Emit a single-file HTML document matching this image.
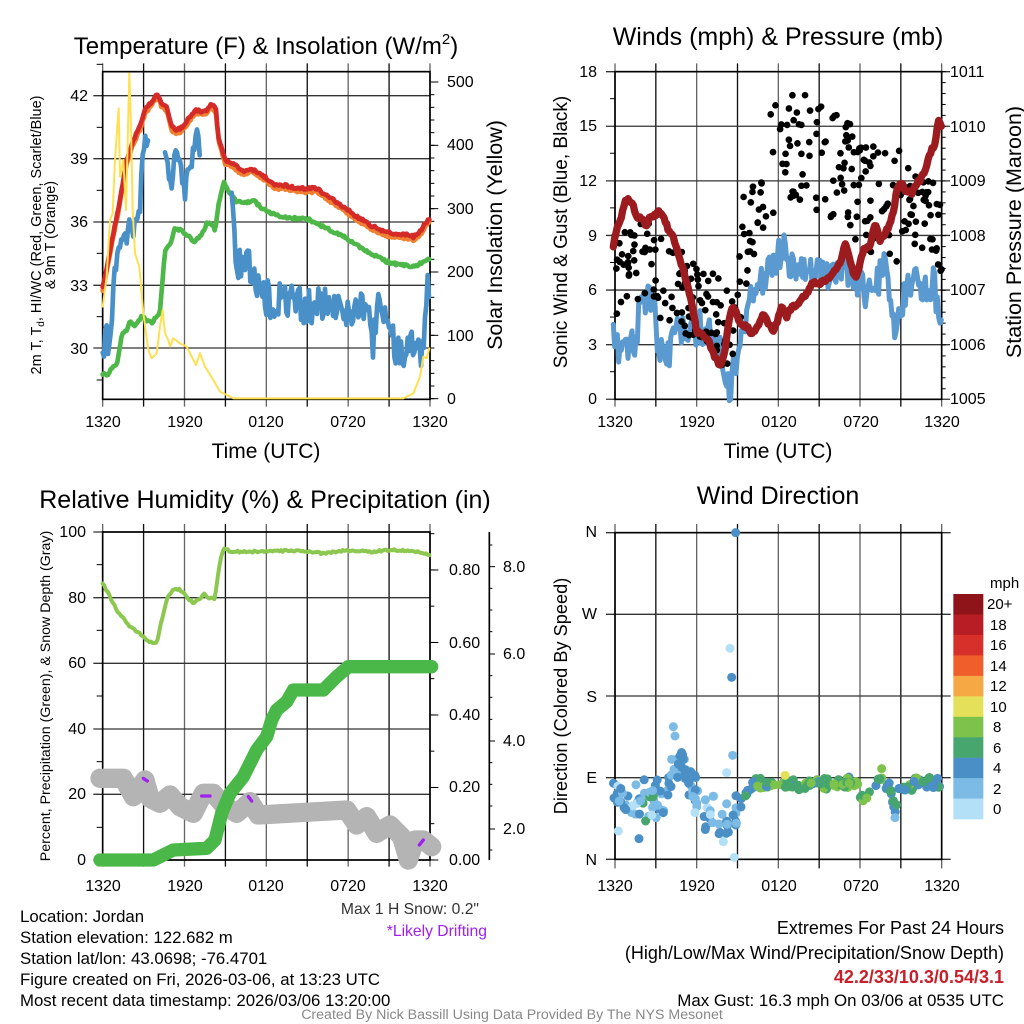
<!DOCTYPE html>
<html><head><meta charset="utf-8">
<style>
html,body{margin:0;padding:0;background:#fff;}
svg{display:block;font-family:"Liberation Sans",sans-serif;}
</style></head>
<body>
<svg id="s" width="1024" height="1024" viewBox="0 0 1024 1024" xmlns="http://www.w3.org/2000/svg">
<rect width="1024" height="1024" fill="#fff"/>
<g id="g1" transform="translate(90,60) scale(0.3333333)"></g>
<g id="g2" transform="translate(600,60) scale(0.3333333)"></g>
<g id="g3" transform="translate(90,520) scale(0.3333333)"></g>
<g id="g4" transform="translate(600,520) scale(0.3333333)"></g>
<g id="txt" font-size="16" fill="#000">
<!-- Panel 1 -->
<text x="266" y="54" font-size="24" text-anchor="middle">Temperature (F) &amp; Insolation (W/m<tspan font-size="15" dy="-10">2</tspan><tspan dy="10">)</tspan></text>
<g text-anchor="end"><text x="88" y="101">42</text><text x="88" y="164">39</text><text x="88" y="227">36</text><text x="88" y="291">33</text><text x="88" y="354">30</text></g>
<g text-anchor="start"><text x="447" y="87">500</text><text x="447" y="150">400</text><text x="447" y="214">300</text><text x="447" y="277">200</text><text x="447" y="341">100</text><text x="447" y="404">0</text></g>
<g text-anchor="middle"><text x="103" y="427">1320</text><text x="185" y="427">1920</text><text x="266" y="427">0120</text><text x="348" y="427">0720</text><text x="430" y="427">1320</text></g>
<text x="266" y="458" font-size="21" text-anchor="middle">Time (UTC)</text>
<text transform="translate(41,235) rotate(-90)" font-size="14.5" text-anchor="middle">2m T, T<tspan font-size="10" dy="3">d</tspan><tspan dy="-3">, HI/WC (Red, Green, Scarlet/Blue)</tspan></text>
<text transform="translate(55,235) rotate(-90)" font-size="14.5" text-anchor="middle">&amp; 9m T (Orange)</text>
<text transform="translate(502,235) rotate(-90)" font-size="21.5" text-anchor="middle">Solar Insolation (Yellow)</text>
<!-- Panel 2 -->
<text x="778" y="45" font-size="25" text-anchor="middle">Winds (mph) &amp; Pressure (mb)</text>
<g text-anchor="end"><text x="597" y="77">18</text><text x="597" y="131">15</text><text x="597" y="186">12</text><text x="597" y="241">9</text><text x="597" y="295">6</text><text x="597" y="350">3</text><text x="597" y="404">0</text></g>
<g text-anchor="start"><text x="950" y="77">1011</text><text x="950" y="132">1010</text><text x="950" y="186">1009</text><text x="950" y="241">1008</text><text x="950" y="295">1007</text><text x="950" y="350">1006</text><text x="950" y="404">1005</text></g>
<g text-anchor="middle"><text x="615" y="427">1320</text><text x="697" y="427">1920</text><text x="779" y="427">0120</text><text x="861" y="427">0720</text><text x="942" y="427">1320</text></g>
<text x="778" y="458" font-size="21" text-anchor="middle">Time (UTC)</text>
<text transform="translate(567,232) rotate(-90)" font-size="19" text-anchor="middle">Sonic Wind &amp; Gust (Blue, Black)</text>
<text transform="translate(1021,232) rotate(-90)" font-size="21.5" text-anchor="middle">Station Pressure (Maroon)</text>
<!-- Panel 3 -->
<text x="265" y="508" font-size="25" text-anchor="middle">Relative Humidity (%) &amp; Precipitation (in)</text>
<g text-anchor="end"><text x="86" y="537">100</text><text x="86" y="603">80</text><text x="86" y="668">60</text><text x="86" y="734">40</text><text x="86" y="799">20</text><text x="86" y="865">0</text></g>
<g text-anchor="start"><text x="449" y="575">0.80</text><text x="449" y="648">0.60</text><text x="449" y="720">0.40</text><text x="449" y="792">0.20</text><text x="449" y="865">0.00</text></g>
<g text-anchor="start"><text x="503" y="572">8.0</text><text x="503" y="659">6.0</text><text x="503" y="746">4.0</text><text x="503" y="834">2.0</text></g>
<g text-anchor="middle"><text x="103" y="891">1320</text><text x="185" y="891">1920</text><text x="266" y="891">0120</text><text x="348" y="891">0720</text><text x="430" y="891">1320</text></g>
<text transform="translate(50,696) rotate(-90)" font-size="14.2" text-anchor="middle">Percent, Precipitation (Green), &amp; Snow Depth (Gray)</text>
<text x="479" y="914" font-size="15.7" text-anchor="end" fill="#333">Max 1 H Snow: 0.2"</text>
<text x="487" y="936" font-size="15.7" text-anchor="end" fill="#a020f0">*Likely Drifting</text>
<!-- Panel 4 -->
<text x="778" y="504" font-size="25" text-anchor="middle">Wind Direction</text>
<g text-anchor="end"><text x="597" y="537">N</text><text x="597" y="619">W</text><text x="597" y="702">S</text><text x="597" y="783">E</text><text x="597" y="865">N</text></g>
<g text-anchor="middle"><text x="615" y="891">1320</text><text x="697" y="891">1920</text><text x="779" y="891">0120</text><text x="861" y="891">0720</text><text x="942" y="891">1320</text></g>
<text transform="translate(567,696) rotate(-90)" font-size="18.2" text-anchor="middle">Direction (Colored By Speed)</text>
<g font-size="15"><text x="990" y="588">mph</text>
<text x="987" y="609">20+</text><text x="990" y="630">18</text><text x="990" y="650">16</text><text x="990" y="671">14</text><text x="990" y="691">12</text><text x="990" y="712">10</text><text x="993" y="732">8</text><text x="993" y="753">6</text><text x="993" y="773">4</text><text x="993" y="794">2</text><text x="993" y="814">0</text></g>
<!-- bottom text -->
<g font-size="16.8"><text x="20" y="922">Location: Jordan</text>
<text x="20" y="943">Station elevation: 122.682 m</text>
<text x="20" y="964">Station lat/lon: 43.0698; -76.4701</text>
<text x="20" y="985">Figure created on Fri, 2026-03-06, at 13:23 UTC</text>
<text x="20" y="1006">Most recent data timestamp: 2026/03/06 13:20:00</text></g>
<g font-size="18" text-anchor="end"><text x="1004" y="934">Extremes For Past 24 Hours</text>
<text x="1004" y="959">(High/Low/Max Wind/Precipitation/Snow Depth)</text>
<text x="1004" y="983" font-weight="bold" fill="#c8202a">42.2/33/10.3/0.54/3.1</text>
<text x="1004" y="1006" font-size="16.9">Max Gust: 16.3 mph On 03/06 at 0535 UTC</text></g>
<text x="512" y="1019" font-size="14.2" text-anchor="middle" fill="#888">Created By Nick Bassill Using Data Provided By The NYS Mesonet</text>
</g>
</svg>
<script>
var NS="http://www.w3.org/2000/svg";
var seed=12345;function rnd(){seed|=0;seed=seed+0x6D2B79F5|0;var t=Math.imul(seed^seed>>>15,1|seed);t=t+Math.imul(t^t>>>7,61|t)^t;return((t^t>>>14)>>>0)/4294967296;}
function el(g,tag,a){var e=document.createElementNS(NS,tag);for(var k in a)e.setAttribute(k,a[k]);g.appendChild(e);return e;}
function interp(p,x){for(var i=0;i<p.length-1;i++){if(x<=p[i+1][0]){var t=(x-p[i][0])/((p[i+1][0]-p[i][0])||1);return p[i][1]+t*(p[i+1][1]-p[i][1]);}}return p[p.length-1][1];}
function line(g,p,col,w,step,amp,dy){dy=dy||0;var d="";if(!step){p.forEach(function(q,i){d+=(i?"L":"M")+q[0]+","+(q[1]+dy);});}else{for(var x=p[0][0];x<=p[p.length-1][0];x+=step){var y=interp(p,x)+(amp?(rnd()-0.5)*2*amp:0)+dy;d+=(d?"L":"M")+x.toFixed(1)+","+y.toFixed(1);}}
el(g,"path",{d:d,fill:"none",stroke:col,"stroke-width":w,"stroke-linejoin":"round","stroke-linecap":"round"});}
function grid(g,xs,yt,yb,ys,xl,xr,box){
xs.forEach(function(x,i){el(g,"line",{x1:x,y1:yt,x2:x,y2:yb,stroke:(i%2?"#111":"#666"),"stroke-width":4});});
ys.forEach(function(y){el(g,"line",{x1:xl,y1:y,x2:xr,y2:y,stroke:"#333","stroke-width":4});});
el(g,"rect",{x:box[0],y:box[1],width:box[2]-box[0],height:box[3]-box[1],fill:"none",stroke:"#000","stroke-width":5});}
function ticks(g,x,x2,ys){ys.forEach(function(y){el(g,"line",{x1:x,y1:y,x2:x2,y2:y,stroke:"#000","stroke-width":3});});}
function range(a,b,s){var r=[];for(var v=a;v<=b+0.01;v+=s)r.push(v);return r;}

/* ---------- Panel 1 ---------- */
var g1=document.getElementById("g1");
grid(g1,range(38,1020,122.75),10,1040,[107,296,486,676,864],10,1020,[38,35,1020,1018]);
ticks(g1,20,38,[202,391,580,770,960,13]);
ticks(g1,1020,1045,range(66,1018,190));
ticks(g1,1020,1033,range(66,1018,38));
var yel=[[38,740],[50,650],[60,480],[68,460],[75,300],[82,200],[86,145],[90,350],[100,300],[108,450],[113,250],[118,40],[123,200],[128,450],[135,580],[148,620],[160,760],[175,870],[185,895],[200,880],[210,800],[218,750],[225,820],[235,840],[240,860],[250,835],[270,850],[290,860],[305,890],[318,915],[330,880],[345,920],[370,960],[390,995],[410,1005],[430,1015],[940,1015],[970,1000],[990,950],[1000,890],[1010,895],[1018,865]];
var red=[[38,680],[55,600],[70,520],[90,420],[110,300],[130,240],[150,200],[165,150],[185,125],[203,100],[215,130],[230,140],[245,200],[260,210],[280,200],[300,170],[315,150],[335,155],[350,150],[365,130],[378,150],[385,230],[400,280],[405,300],[430,310],[455,335],[480,325],[500,335],[530,355],[550,375],[580,375],[620,385],[680,385],[700,400],[760,440],[800,470],[850,500],[900,520],[950,525],[970,530],[990,515],[1005,490],[1018,475]];
var grn=[[38,940],[55,945],[70,915],[80,915],[95,825],[110,810],[120,780],[135,800],[155,770],[170,780],[185,790],[210,755],[215,690],[225,570],[240,555],[255,505],[270,510],[290,525],[315,545],[335,525],[350,490],[365,490],[375,510],[385,440],[395,390],[402,365],[410,380],[420,400],[440,425],[460,430],[490,420],[510,440],[540,460],[580,470],[620,475],[660,480],[700,500],[740,520],[780,540],[820,570],[860,590],[890,605],[930,615],[975,620],[1000,605],[1018,595]];
var blu1=[[38,870],[42,900],[48,740],[55,900],[65,780],[72,650],[80,600],[90,560],[100,520],[110,540],[120,480],[130,520],[140,470],[150,450],[155,300],[165,245],[175,240]];
var blu2=[[225,265],[235,330],[245,370],[255,290],[265,280],[275,350],[285,400],[295,330],[305,300],[318,215],[330,280]];
var blu3=[[425,410],[430,480],[440,600],[460,610],[490,640],[505,700],[540,720],[600,720],[650,740],[700,730],[760,760],[800,740],[830,760],[850,850],[870,700],[900,800],[920,880],[960,850],[1000,870],[1010,680],[1018,680]];
line(g1,grn,"#4db848",14,4,4);
line(g1,red,"#f08030",14,4,4,10);
line(g1,red,"#d42a28",14,4,4);
line(g1,blu1,"#4a90c8",14,4,20);
line(g1,blu2,"#4a90c8",14,4,25);
line(g1,blu3,"#4a90c8",14,4,55);
line(g1,yel,"#ffe050",6);

/* ---------- Panel 2 ---------- */
var g2=document.getElementById("g2");
grid(g2,range(45,1025,122.5),10,1040,range(35,1018,163.8),18,1050,[45,35,1025,1018]);
ticks(g2,30,45,range(116,1018,163.8));
ticks(g2,1025,1037,range(35,1018,32.8));
var gb=[[40,830],[60,880],[80,860],[100,860],[120,760],[140,700],[160,720],[175,860],[200,900],[210,870],[240,800],[270,830],[300,800],[330,830],[360,880],[380,930],[390,1000],[400,930],[415,880],[430,800],[445,720],[470,690],[490,650],[510,600],[530,600],[550,560],[570,620],[600,620],[630,650],[660,600],[690,650],[720,610],[750,650],[780,680],[800,700],[830,680],[850,620],[870,700],[885,830],[900,730],[930,680],[950,660],[980,690],[1000,660],[1015,760],[1025,800]];
line(g2,gb,"#5a9ad0",15,4,50);
var dc=[[40,640],[100,640],[150,580],[200,700],[260,700],[330,760],[380,800],[410,780],[430,560],[470,400],[520,300],[560,280],[620,260],[680,300],[740,350],[800,420],[860,430],[920,440],[980,460],[1025,550]];
for(var i=0;i<300;i++){var x=40+rnd()*985;var sp=(x>430&&x<900)?170:130;var y=interp(dc,x)+(rnd()*2-1)*sp;el(g2,"circle",{cx:x,cy:y,r:10,fill:"#000"});}
var mar=[[40,560],[50,510],[65,470],[75,420],[85,415],[100,440],[110,470],[130,480],[140,500],[150,470],[165,465],[175,455],[190,465],[205,510],[215,520],[235,580],[255,650],[270,710],[285,780],[290,815],[310,825],[325,840],[340,880],[360,920],[375,870],[390,760],[400,740],[410,760],[420,790],[440,800],[455,820],[475,800],[490,760],[505,790],[520,810],[530,790],[545,740],[560,770],[575,740],[590,740],[600,720],[620,700],[635,670],[660,670],[680,660],[700,640],[720,610],[735,550],[745,580],[760,640],[770,650],[790,570],[810,560],[825,490],[840,540],[850,530],[865,500],[880,460],[890,390],[905,365],[915,390],[935,400],[945,380],[960,360],[975,330],[990,280],[1005,250],[1015,180],[1025,200]];
line(g2,mar,"#9b1b1e",22,4,5);

/* ---------- Panel 3 ---------- */
var g3=document.getElementById("g3");
grid(g3,range(38,1020,122.75),12,1040,[36,233,430,627,823,1020],10,1020,[38,36,1020,1020]);
ticks(g3,20,38,range(134,1020,197));
ticks(g3,1020,1045,range(150,1020,217.5));
ticks(g3,1020,1033,range(41,1020,108.75));
el(g3,"line",{x1:1198,y1:36,x2:1198,y2:1020,stroke:"#000","stroke-width":5});
ticks(g3,1198,1215,[140,402,663,927]);
ticks(g3,1198,1207,[75,205,270,335,467,532,598,728,793,858,990]);
var lg=[[38,190],[60,230],[80,270],[95,290],[120,320],[150,340],[175,365],[200,370],[215,300],[230,240],[250,205],[270,210],[290,230],[310,250],[330,235],[345,220],[355,235],[375,235],[385,160],[395,100],[405,85],[420,95],[500,95],[540,95],[600,92],[650,95],[700,100],[760,92],[800,92],[850,95],[900,90],[960,92],[990,95],[1020,105]];
line(g3,lg,"#8cc850",12,5,3);
var gr=[[30,775],[100,775],[130,830],[165,780],[180,835],[210,850],[240,825],[270,860],[310,880],[340,820],[370,820],[400,855],[440,880],[480,845],[505,885],[770,870],[800,915],[830,890],[860,940],[900,915],[935,950],[955,1020],[975,960],[1000,960],[1025,980]];
line(g3,gr,"#b4b4b4",58);
var pg=[[30,1020],[190,1020],[250,990],[350,985],[375,960],[395,880],[420,820],[460,770],[480,730],[500,690],[530,650],[545,600],[560,570],[590,545],[610,510],[700,510],[740,470],[775,440],[1025,440]];
line(g3,pg,"#4ab848",40);
[[[160,775],[172,783]],[[335,828],[360,828]],[[475,830],[485,843]],[[988,975],[1000,960]]].forEach(function(p){line(g3,p,"#a020f0",10);});

/* ---------- Panel 4 ---------- */
var g4=document.getElementById("g4");
grid(g4,range(45,1025,122.5),12,1045,[38,283,528,773,1018],18,1052,[45,38,1025,1018]);
var C=["#8f1419","#b81c24","#d7302a","#ef5e2b","#f6a845","#e5e05a","#7dc24a","#47a56e","#4a8fc6","#7cbbe5","#b4e0f7"];
C.forEach(function(c,i){el(g4,"rect",{x:1060,y:222+i*61.4,width:90,height:62,fill:c});});
var sl=[[40,800],[100,850],[160,840],[200,820],[230,720],[250,760],[290,830],[330,880],[370,900],[395,870],[410,880]];
for(var i=0;i<110;i++){var x=40+rnd()*370;var y=interp(sl,x)+(rnd()+rnd()-1)*70;var r=rnd();var c=(x>120&&x<165&&r<0.3)?"#47a56e":(r<0.55?"#4a8fc6":(r<0.92?"#7cbbe5":"#b4e0f7"));el(g4,"circle",{cx:x,cy:y,r:13.5,fill:c});}
var sr=[[410,880],[440,820],[470,785],[500,790],[770,790],[790,840],[810,800],[840,780],[870,800],[885,870],[900,800],[920,800],[950,790],[1025,785]];
for(var i=0;i<170;i++){var x=420+rnd()*605;var y=interp(sr,x)+(rnd()+rnd()-1)*22;var r=rnd();var c;if((x>850&&x<900)||(x<470))c=r<0.7?"#4a8fc6":"#47a56e";else if(x>900)c=r<0.4?"#4a8fc6":(r<0.8?"#47a56e":"#7dc24a");else c=r<0.55?"#47a56e":(r<0.95?"#7dc24a":"#4a8fc6");el(g4,"circle",{cx:x,cy:y,r:13.5,fill:c});}
[[407,38,"#4a8fc6"],[390,385,"#b4e0f7"],[395,472,"#4a8fc6"],[398,706,"#7cbbe5"],[403,1012,"#b4e0f7"],[220,620,"#7cbbe5"],[225,648,"#7cbbe5"],[215,718,"#7cbbe5"],[240,708,"#4a8fc6"],[250,718,"#4a8fc6"],[235,732,"#4a8fc6"],[245,742,"#4a8fc6"],[233,772,"#4a8fc6"],[255,762,"#4a8fc6"],[380,758,"#b4e0f7"],[370,965,"#b4e0f7"],[117,956,"#4a8fc6"],[55,933,"#b4e0f7"],[845,746,"#7dc24a"],[555,766,"#e5e05a"],[885,893,"#7cbbe5"]].forEach(function(p){el(g4,"circle",{cx:p[0],cy:p[1],r:13.5,fill:p[2]});});
</script>
</body></html>
